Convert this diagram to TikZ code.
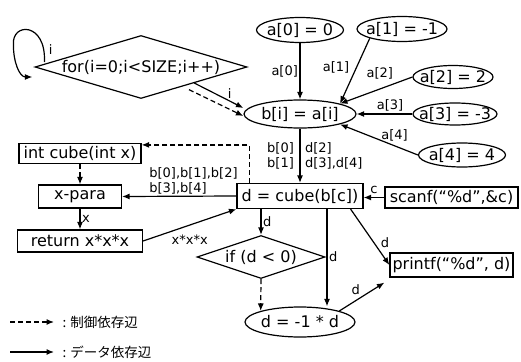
\documentclass[tikz,border=0pt]{standalone}
\usepackage{fontspec}
\setmainfont{DejaVu Sans}
\newfontfamily\jpfont{Noto Sans CJK JP}
\usetikzlibrary{shapes.geometric,arrows.meta,calc}

\begin{document}
\begin{tikzpicture}[x=1pt,y=-1pt,line width=1.2pt,>={Latex[length=7.5pt,width=6pt]},
	box/.style={draw,rectangle,inner sep=0pt,font=\fontsize{16}{18}\selectfont},
	elnode/.style={draw,ellipse,inner xsep=-20pt,inner ysep=-6pt,font=\fontsize{16}{18}\selectfont},
	cond/.style={draw,diamond,inner sep=0pt,font=\fontsize{16}{18}\selectfont},
	lbl/.style={font=\fontsize{13}{15.5}\selectfont,inner sep=1.5pt},
	ctrl/.style={dash pattern=on 5pt off 3pt}]
				\useasboundingbox (0,0) rectangle (521,361);
				% statements
				\node[cond,shape aspect=3.3,minimum width=212pt,minimum height=63pt] (forloop) at (141,67) {for(i=0;i<SIZE;i++)};
				\node[elnode,minimum width=87pt,minimum height=25pt] (a0) at (300,30) {a[0] = 0};
				\node[elnode,minimum width=90pt,minimum height=25pt] (a1) at (402,29) {a[1] = -1};
				\node[elnode,minimum width=80pt,minimum height=23pt] (a2) at (453,77) {a[2] = 2};
				\node[elnode,minimum width=84pt,minimum height=22pt] (a3) at (455,114) {a[3] = -3};
				\node[elnode,minimum width=87pt,minimum height=24pt] (a4) at (462,155) {a[4] = 4};
				\node[elnode,minimum width=112pt,minimum height=28pt] (bi) at (300,114) {b[i] = a[i]};
				\node[box,minimum width=122pt,minimum height=20pt] (cube) at (80,153.5) {int cube(int x)};
				\node[box,minimum width=83pt,minimum height=23pt] (xpara) at (80,196.5) {x-para};
				\node[box,minimum width=125pt,minimum height=22pt] (ret) at (80,241) {return x*x*x};
				\node[box,minimum width=126pt,minimum height=25pt] (dbox) at (300,196) {d = cube(b[c])};
				\node[box,minimum width=133pt,minimum height=21pt] (scanf) at (451.5,197.5) {scanf(“\%d”,\&c)};
				\node[box,minimum width=123pt,minimum height=24pt] (printf) at (451.5,265) {printf(“\%d”, d)};
				\node[cond,shape aspect=3,minimum width=128pt,minimum height=43pt] (ifd) at (261,257) {if (d < 0)};
				\node[elnode,minimum width=110pt,minimum height=30pt] (dl) at (300,322) {d = -1 * d};
				% loop and array inputs
				\draw[->] ([shift={(10,-5)}]forloop.west) .. controls +(2,-40) and +(-2,-23) .. ([shift={(-21,-22)}]forloop.west)
					node[lbl,pos=.12,right=3pt]{i}
					.. controls +(0,17) and +(-13,0) .. ([shift={(-2,10)}]forloop.west);
				\draw[->] ($(forloop.east)!.5!(forloop.south)$) -- ([yshift=6pt]bi.west) node[lbl,pos=.72,above]{i};
				\draw[->,ctrl] ($(forloop.east)!.55!(forloop.south)+(0,5)$) -- ([yshift=-2pt]bi.west);
				\draw[->] (a0) -- (bi) node[lbl,midway,left]{a[0]};
				\draw[->] (a1.south west) -- (bi.north east) node[lbl,pos=.45,left=5pt]{a[1]};
				\draw[->] (a2.west) -- (bi.north east) node[lbl,pos=.45,above=8pt]{a[2]};
				\draw[->] (a3) -- (bi) node[lbl,pos=.4,above=1pt]{a[3]};
				\draw[->] (a4.west) -- (bi.south east) node[lbl,pos=.3,above=2pt]{a[4]};
				% call of cube
				\draw[->] (bi) -- (dbox) node[lbl,midway,left=4pt,align=left]{b[0]\\b[1]}
					node[lbl,midway,right=3pt,align=left]{d[2]\\d[3],d[4]};
				\draw[->] (scanf.west) -- (dbox.east |- scanf.west) node[lbl,midway,above=2pt]{c};
				\draw[->] (dbox.west) -- (xpara.east) node[lbl,pos=.78,above right,align=left]{b[0],b[1],b[2]\\b[3],b[4]};
				\draw[->,ctrl] ([xshift=13pt]dbox.north west) |- ([yshift=-2pt]cube.north east);
				\draw[->,ctrl] (cube) -- (xpara);
				\draw[->] (xpara) -- (ret) node[lbl,midway,right]{x};
				\draw[->] (ret.east) -- (dbox.south west) node[lbl,pos=.5,below=8pt]{x*x*x};
				% uses of d
				\draw[->] (dbox.south -| ifd.north) -- (ifd.north) node[lbl,midway,right]{d};
				\draw[->] ([xshift=27pt]dbox.south) -- ([xshift=27pt]dbox.south |- dl.north) node[lbl,pos=.49,right]{d};
				\draw[->,ctrl] (ifd.south) -- (dl.north west);
				\draw[->] ([xshift=-13pt]dbox.south east) -- (printf.west) node[lbl,pos=.6,right=5pt]{d};
				\draw[->] (dl.north east) -- ([shift={(-5,5)}]printf.south west) node[lbl,midway,above left]{d};
				% legend
				\coordinate (lg1) at (10,322);
				\coordinate (lg2) at (10,352);
				\node[anchor=west,inner sep=0pt,font=\jpfont\fontsize{13.5}{16}\selectfont] (ctrltxt) at (62,322) {: 制御依存辺};
				\node[anchor=west,inner sep=0pt,font=\jpfont\fontsize{13.5}{16}\selectfont] (datatxt) at (62,352) {: データ依存辺};
				\draw[->,ctrl] (lg1) -- (ctrltxt) [shorten >=8pt];
				\draw[->] (lg2) -- (datatxt) [shorten >=8pt];
			\end{tikzpicture}
\end{document}
